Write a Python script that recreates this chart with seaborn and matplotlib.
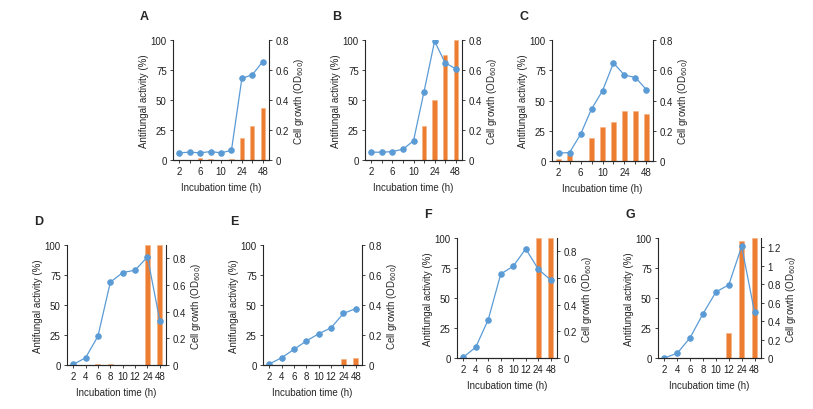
import numpy as np
import matplotlib.pyplot as plt
import seaborn as sns
from matplotlib.ticker import FuncFormatter

sns.set_style("ticks")
plt.rcParams['font.family'] = ['Liberation Sans', 'DejaVu Sans']

# incubation times (h)
hours9 = ['2', '4', '6', '8', '10', '12', '24', '36', '48']
hours8 = ['2', '4', '6', '8', '10', '12', '24', '48']

# antifungal activity (%) and cell growth (OD600) per panel
act_A = [6, 6.5, 6, 7, 6, 8, 68, 71, 82]
od_A = [0, 0, 0.015, 0.005, 0, 0.005, 0.145, 0.225, 0.35]
act_B = [6.5, 6.5, 7, 9, 16, 57, 99, 81, 76]
od_B = [0, 0, 0, 0, 0, 0.23, 0.40, 0.70, 0.80]
act_C = [6.5, 7, 22, 43, 58, 81, 71, 69, 59]
od_C = [0.013, 0.042, 0, 0.15, 0.225, 0.26, 0.33, 0.33, 0.31]
act_D = [0.5, 6, 24, 69, 77, 79, 90, 37]
od_D = [0, 0.003, 0.008, 0.005, 0, 0, 0.9, 0.9]
act_E = [0.8, 6, 13, 20, 26, 31, 43, 47]
od_E = [0, 0, 0, 0, 0, 0, 0.038, 0.044]
act_F = [0.6, 9, 32, 70, 76.5, 91, 74, 65]
od_F = [0, 0, 0, 0, 0, 0, 0.9, 0.9]
act_G = [0, 4, 17, 37, 55, 61, 93, 38]
od_G = [0, 0, 0, 0, 0, 0.27, 1.27, 1.3]

BLUE = '#5B9BD5'
ORANGE = '#ED7D31'
W, H = 813, 410

fig = plt.figure(figsize=(W / 100, H / 100), dpi=100)


def panel(l, r, t, b, letter, hours, act, od, od_max, od_ticks, every_other):
    ax = fig.add_axes([l / W, 1 - b / H, (r - l) / W, (b - t) / H])
    ax2 = ax.twinx()
    sns.barplot(x=hours, y=od, ax=ax2, color=ORANGE, width=0.4,
                edgecolor='#F4B183', linewidth=0.4, saturation=1)
    sns.pointplot(x=hours, y=act, ax=ax, color=BLUE, markers='o',
                  markersize=4, linewidth=0.9)
    ax.set_zorder(ax2.get_zorder() + 1)
    ax.patch.set_visible(False)

    n = len(hours)
    pad = 0.6 if n == 9 else 0.5
    ax.set_xlim(-pad, n - 1 + pad)
    ax2.set_xlim(-pad, n - 1 + pad)
    ax.set_ylim(0, 100)
    ax.set_yticks([0, 25, 50, 75, 100])
    ax2.set_ylim(0, od_max)
    ax2.set_yticks(od_ticks)
    ax2.yaxis.set_major_formatter(FuncFormatter(lambda v, p: f'{v:g}'))

    ax.set_xticks(range(n))
    if every_other:
        ax.set_xticklabels([h if i % 2 == 0 else '' for i, h in enumerate(hours)])
    else:
        ax.set_xticklabels(hours)

    for a in (ax, ax2):
        a.spines['top'].set_visible(False)
        for s in a.spines.values():
            s.set_linewidth(0.8)
        a.tick_params(labelsize=7, length=2.5, width=0.6, pad=2, colors='#222222')
    ax2.spines['left'].set_visible(False)
    ax.spines['right'].set_visible(False)

    ax.set_xlabel('Incubation time (h)', fontsize=7, labelpad=4)
    ax.set_ylabel('Antifungal activity (%)', fontsize=7, labelpad=1)
    ax2.set_ylabel('Cell growth (OD$_{600}$)', fontsize=7, labelpad=2)
    fig.text((l - 33) / W, 1 - (t - 24) / H, letter, fontsize=9,
             fontweight='bold', ha='left', va='center')


od8 = [0, 0.2, 0.4, 0.6, 0.8]
panel(173, 269, 41, 161, 'A', hours9, act_A, od_A, 0.8, od8, True)
panel(365, 462, 41, 161, 'B', hours9, act_B, od_B, 0.8, od8, True)
panel(552, 653, 41, 162, 'C', hours9, act_C, od_C, 0.8, od8, True)
panel(67, 166, 246, 366, 'D', hours8, act_D, od_D, 0.9, od8, False)
panel(263, 362, 246, 366, 'E', hours8, act_E, od_E, 0.8, od8, False)
panel(457, 557, 239, 359, 'F', hours8, act_F, od_F, 0.9, od8, False)
panel(658, 761, 239, 359, 'G', hours8, act_G, od_G, 1.3,
      [0, 0.2, 0.4, 0.6, 0.8, 1.0, 1.2], False)

fig.savefig('out.png', dpi=100)
